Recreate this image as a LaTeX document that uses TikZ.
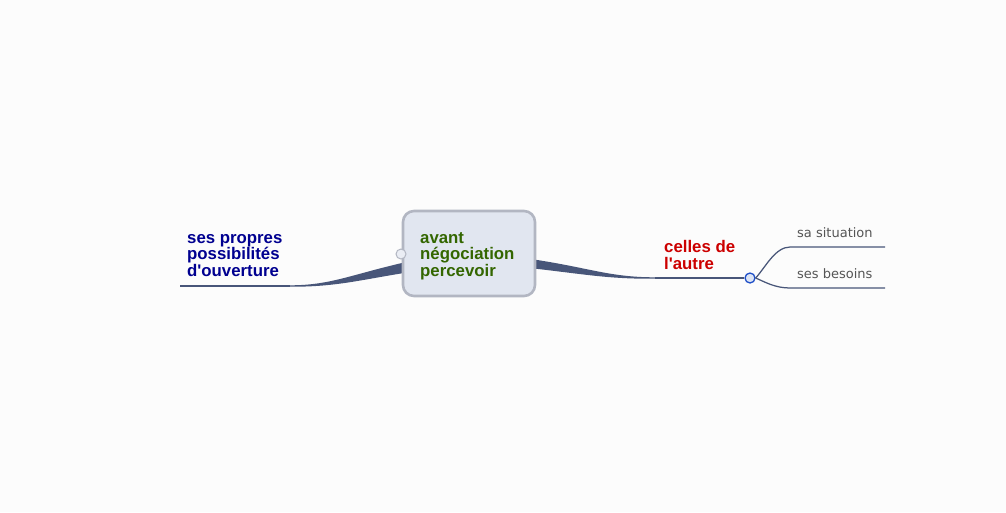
\documentclass[tikz,border=0pt]{standalone}
\usepackage{fontspec}
\setmainfont{Liberation Sans}
\newfontfamily\smallfont{DejaVu Sans}
\begin{document}
\begin{tikzpicture}[x=1pt,y=-1pt,
  branch/.style={draw=branchc,line width=1.25pt},
  taper/.style={fill=branchc,draw=none},
  bigtext/.style={font=\fontsize{16.8}{16.5}\selectfont\bfseries,align=left,inner sep=0pt,anchor=base west},
  leaf/.style={font=\smallfont\fontsize{13}{15}\selectfont,text=leafc,inner sep=0pt,anchor=base west},
  dot/.style={circle,inner sep=0pt,minimum size=10pt,line width=1.3pt}
]
\definecolor{bgc}{HTML}{FCFCFC}
\definecolor{branchc}{HTML}{485679}
\definecolor{boxfill}{HTML}{E1E6F0}
\definecolor{boxdraw}{HTML}{B2B6C2}
\definecolor{greenc}{HTML}{336600}
\definecolor{bluec}{HTML}{000090}
\definecolor{redc}{HTML}{CC0000}
\definecolor{leafc}{HTML}{555555}
\definecolor{dotblue}{HTML}{2050C8}
\definecolor{dotfill}{HTML}{DCE4F4}
\useasboundingbox[fill=bgc] (0,0) rectangle (1006,512);

% connectors (behind nodes)
\coordinate (lend) at (180,286);
\coordinate (lmid) at (290,286);
\coordinate (rmid) at (655,278);
\coordinate (s1a) at (790,247);
\coordinate (s1b) at (885,247);
\coordinate (s2a) at (790,288);
\coordinate (s2b) at (885,288);

% left taper
\fill[taper] (404,262.5) .. controls (350,275) and (330,285.3) .. (290,285.3)
  -- (290,286.7) .. controls (335,287) and (360,280) .. (404,273) -- cycle;
\draw[branch] (lmid) -- (lend);
% right taper
\fill[taper] (534,259.5) .. controls (590,268) and (610,277.3) .. (655,277.3)
  -- (655,278.7) .. controls (610,279) and (590,275) .. (534,268.5) -- cycle;

% central node
\node[draw=boxdraw,fill=boxfill,line width=2.6pt,rounded corners=11pt,
  minimum width=132pt,minimum height=85pt,inner sep=0pt] (root) at (469,253.5) {};
\node[bigtext,text=greenc] (rootlabel) at (420,276) {avant\\négociation\\percevoir};
\node[circle,draw=boxdraw,fill=boxfill!70!white,line width=1pt,minimum size=10pt,inner sep=0pt] (rootdot) at (401,254) {};

% left label
\node[bigtext,text=bluec] (left) at (187,276) {ses propres\\possibilités\\d\textquotesingle ouverture};

% right label
\node[bigtext,text=redc] (right) at (664,269) {celles de\\l\textquotesingle autre};
\node[dot,draw=dotblue,fill=dotfill] (rdot) at (750,278) {};
\draw[branch] (rmid) -- (rdot.west);
\draw[branch] (rdot.east) .. controls (765,268) and (775,247) .. (s1a) -- (s1b);
\draw[branch] (rdot.east) .. controls (765,282) and (775,288) .. (s2a) -- (s2b);
\node[leaf] (l1) at (797,237.5) {sa situation};
\node[leaf] (l2) at (797,278) {ses besoins};
\end{tikzpicture}
\end{document}
